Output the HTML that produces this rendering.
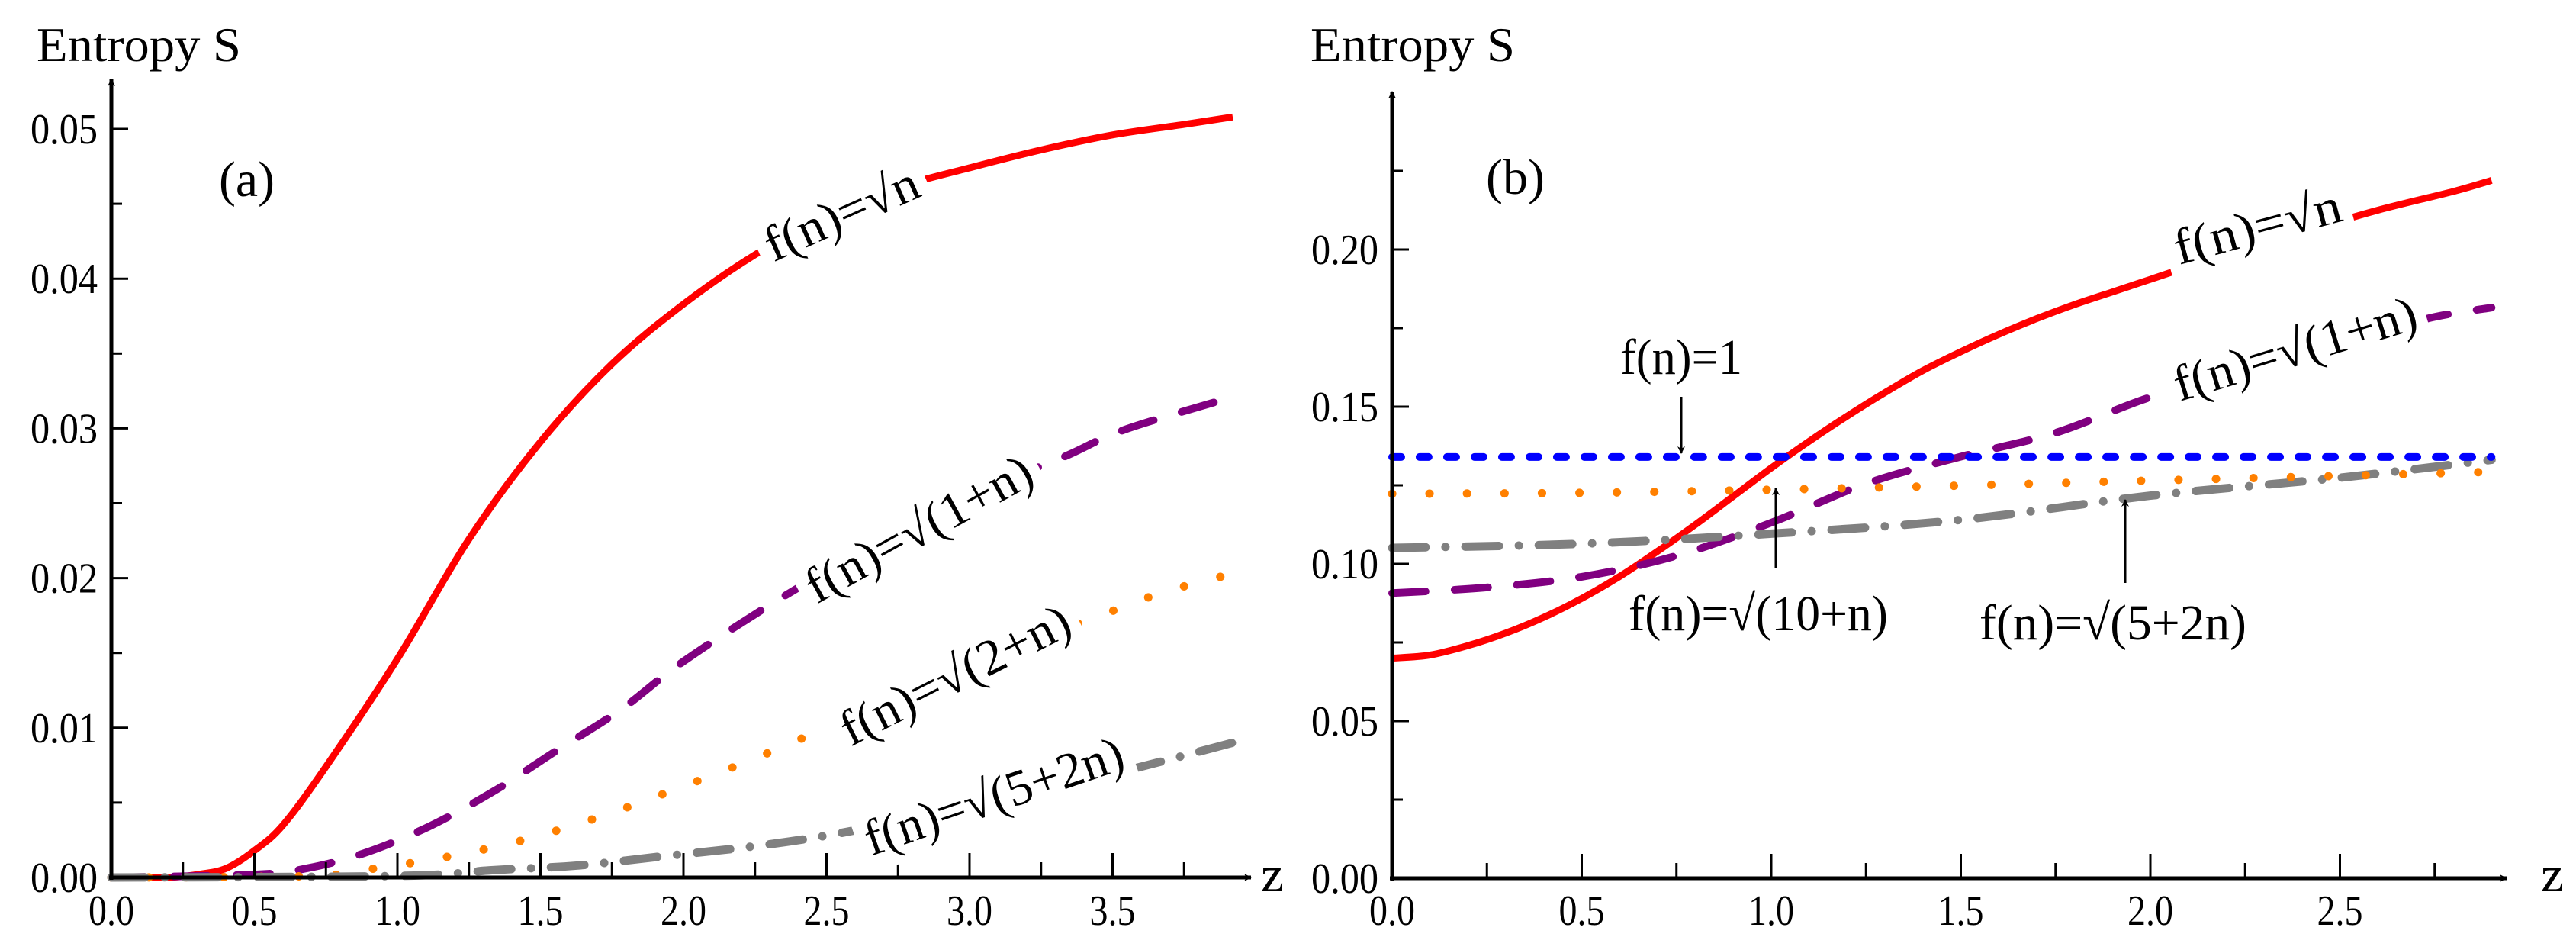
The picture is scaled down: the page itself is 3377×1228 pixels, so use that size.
<!DOCTYPE html>
<html><head><meta charset="utf-8"><style>
html,body{margin:0;padding:0;background:#fff;}
svg{display:block;font-family:"Liberation Serif","DejaVu Serif",serif;}
</style></head><body>
<svg id="chart" width="3377" height="1228" viewBox="0 0 3377 1228" xmlns="http://www.w3.org/2000/svg">
<defs>
<marker id="ah" markerWidth="10" markerHeight="10" refX="9" refY="5" orient="auto" markerUnits="userSpaceOnUse" viewBox="0 0 10 10"><path d="M0,0 L10,5 L0,10 L3,5 Z" fill="#000"/></marker>
</defs>
<g id="pa"></g>
<g id="pb"></g>
</svg>
<script>
// ---- Panel (a) data ----
const aRedX = [0,0.2,0.3,0.4,0.5,0.6,0.75,1.0,1.25,1.5,1.75,2.0,2.25,2.5,2.75,3.0,3.25,3.5,3.75,3.92];
const aRedY = [0,0,0.0002,0.0006,0.0018,0.0035,0.0074,0.0146,0.0226,0.0291,0.0343,0.0383,0.0416,0.0442,0.0461,0.0474,0.0486,0.0496,0.0503,0.0508];
const aPurX = [0,0.5,0.68,0.88,1.11,1.34,1.55,1.78,1.99,2.31,2.6,3.0,3.33,3.54,3.92];
const aPurY = [0,0.0002,0.0006,0.0016,0.0034,0.0058,0.0084,0.0112,0.0143,0.0183,0.0215,0.0255,0.0281,0.0299,0.0321];
const aOrX = [0,0.7,0.92,1.18,1.44,1.70,1.96,2.23,2.5,2.8,3.1,3.43,3.67,3.92];
const aOrY = [0,0.0001,0.0006,0.0014,0.0025,0.0040,0.0058,0.0078,0.0100,0.0125,0.0150,0.0173,0.0190,0.0203];
const aGrX = [0,1.0,1.34,1.63,1.92,2.21,2.5,2.9,3.3,3.6,3.92];
const aGrY = [0,0.0001,0.0005,0.0008,0.0014,0.0020,0.0028,0.0043,0.0060,0.0074,0.0090];
const aXTicks = ["0.0","0.5","1.0","1.5","2.0","2.5","3.0","3.5"];
const aYTicks = ["0.00","0.01","0.02","0.03","0.04","0.05"];
// ---- Panel (b) data ----
const bRedX = [0,0.1,0.2,0.3,0.4,0.5,0.6,0.7,0.8,0.9,1.0,1.1,1.2,1.3,1.4,1.5,1.6,1.7,1.8,1.9,2.0,2.2,2.4,2.6,2.8,2.9];
const bRedY = [0.070,0.071,0.074,0.078,0.083,0.089,0.096,0.104,0.1125,0.1215,0.1305,0.139,0.147,0.1545,0.1615,0.1675,0.173,0.178,0.1825,0.1865,0.1905,0.1985,0.2055,0.2125,0.2185,0.222];
const bBlueX = [0,2.9];
const bBlueY = [0.134,0.134];
const bOrX = [0,0.5,1.0,1.5,2.0,2.5,2.9];
const bOrY = [0.1223,0.1226,0.1236,0.1249,0.1265,0.128,0.1293];
const bGrX = [0,0.5,1.0,1.5,2.0,2.5,2.9];
const bGrY = [0.1051,0.1064,0.1096,0.114,0.1217,0.1274,0.1331];
const bPurX = [0,0.25,0.5,0.75,1.0,1.25,1.5,1.75,2.0,2.25,2.5,2.73,2.9];
const bPurY = [0.0907,0.0925,0.0959,0.1026,0.1131,0.1255,0.1341,0.1417,0.153,0.161,0.170,0.178,0.1815];
const bXTicks = ["0.0","0.5","1.0","1.5","2.0","2.5"];
const bYTicks = ["0.00","0.05","0.10","0.15","0.20"];

const NS = "http://www.w3.org/2000/svg";
function mk(tag, parent, attrs){const e=document.createElementNS(NS,tag);for(const k in attrs)e.setAttribute(k,attrs[k]);parent.appendChild(e);return e;}
function pathD(xs, ys, sx, sy){
  const p = xs.map((x,i)=>[sx(x),sy(ys[i])]);
  let d = "M"+p[0][0].toFixed(1)+","+p[0][1].toFixed(1);
  for(let i=0;i<p.length-1;i++){
    const p0=p[Math.max(0,i-1)],p1=p[i],p2=p[i+1],p3=p[Math.min(p.length-1,i+2)];
    const c1=[p1[0]+(p2[0]-p0[0])/6,p1[1]+(p2[1]-p0[1])/6];
    const c2=[p2[0]-(p3[0]-p1[0])/6,p2[1]-(p3[1]-p1[1])/6];
    d+=" C"+c1[0].toFixed(1)+","+c1[1].toFixed(1)+" "+c2[0].toFixed(1)+","+c2[1].toFixed(1)+" "+p2[0].toFixed(1)+","+p2[1].toFixed(1);
  }
  return d;
}
const styles = {
  red:{stroke:"#ff0000","stroke-width":9,fill:"none"},
  purple:{stroke:"#800080","stroke-width":10,fill:"none","stroke-dasharray":"44 38","stroke-linecap":"round"},
  orange:{stroke:"#ff8000","stroke-width":11,fill:"none","stroke-dasharray":"0.1 49","stroke-linecap":"round"},
  gray:{stroke:"#808080","stroke-width":11,fill:"none","stroke-dasharray":"44 26 0.1 26","stroke-linecap":"round"},
  blue:{stroke:"#0000ff","stroke-width":10,fill:"none","stroke-dasharray":"12 24","stroke-linecap":"round"}
};
function axes(g, o){
  const {x0,y0,sx,sy,xMax,yTop,xTicks,xStep,xMinor,yTicks,yStep,yMinor,yMaxV,xArrow} = o;
  const ya = mk("line",g,{x1:x0,y1:y0+3,x2:x0,y2:yTop,stroke:"#000","stroke-width":5,"marker-end":"url(#ah)"});
  
  
  const xa = mk("line",g,{x1:x0-3,y1:y0,x2:xArrow,y2:y0,stroke:"#000","stroke-width":5,"marker-end":"url(#ah)"});
  
  
  for(let v=0; v<=xMax+1e-9; v+=xMinor){
    const major = Math.abs(v/xStep-Math.round(v/xStep))<1e-6;
    const t = mk("line",g,{x1:sx(v),y1:y0,x2:sx(v),y2:y0-(major?32:20),stroke:"#000","stroke-width":3});
    
    
  }
  xTicks.forEach((s,i)=>{
    const t = mk("text",g,{x:sx(i*xStep),y:1212,"font-size":56,"text-anchor":"middle",textLength:60,lengthAdjust:"spacingAndGlyphs"});
    t.textContent=s;
    
    
  });
  for(let v=0; v<=yMaxV+1e-9; v+=yMinor){
    const major = Math.abs(v/yStep-Math.round(v/yStep))<1e-6;
    const t = mk("line",g,{x1:x0,y1:sy(v),x2:x0+(major?22:14),y2:sy(v),stroke:"#000","stroke-width":3});
    
    
  }
  yTicks.forEach((s,i)=>{
    const t = mk("text",g,{x:x0-106,y:sy(i*yStep)+19,"font-size":56,"text-anchor":"start",textLength:88,lengthAdjust:"spacingAndGlyphs"});
    t.textContent=s;
    
    
  });
}
function series(g, xs, ys, sx, sy, st, name){
  const p = mk("path",g,Object.assign({d:pathD(xs,ys,sx,sy)},styles[st]));
  
  
}
function label(g, txt, x, y, rot, name, len){
  const grp = mk("g",g,{transform:`translate(${x},${y}) rotate(${rot})`});
  const r=mk("rect",grp,{x:-len/2-12,y:-50,width:len+24,height:72,fill:"#fff"});
  
  
  const t = mk("text",grp,{x:0,y:0,"font-size":66,"text-anchor":"middle",textLength:len,lengthAdjust:"spacingAndGlyphs"});
  t.textContent = txt;
  
  
}
function arrow(g, x, y1, y2, name){
  const a = mk("line",g,{x1:x,y1:y1,x2:x,y2:y2,stroke:"#000","stroke-width":3,"marker-end":"url(#ah)"});
  
  
}
function text(g, s, x, y, size, name, anchor, len){
  const attrs = {x:x,y:y,"font-size":size,"text-anchor":anchor||"start"};
  if(len){attrs.textLength=len;attrs.lengthAdjust="spacingAndGlyphs";}
  const t = mk("text",g,attrs);
  t.textContent=s;
  
  
}
// Panel (a)
(function(){
  const g=document.getElementById("pa");
  const x0=146,y0=1150, sx=v=>x0+v*375, sy=v=>y0-v*19620;
  series(g,aRedX,aRedY,sx,sy,"red","series-sqrt-n");
  series(g,aPurX,aPurY,sx,sy,"purple","series-sqrt-1-plus-n");
  series(g,aOrX,aOrY,sx,sy,"orange","series-sqrt-2-plus-n");
  series(g,aGrX,aGrY,sx,sy,"gray","series-sqrt-5-plus-2n");
  axes(g,{x0,y0,sx,sy,xMax:3.9,yTop:104,xTicks:aXTicks,xStep:0.5,xMinor:0.25,yTicks:aYTicks,yStep:0.01,yMinor:0.005,yMaxV:0.05,xArrow:1640});
  label(g,"f(n)=√n",1112,300,-24,"label-sqrt-n",215);
  label(g,"f(n)=√(1+n)",1215,712,-29,"label-sqrt-1-plus-n",330);
  label(g,"f(n)=√(2+n)",1262,904,-27,"label-sqrt-2-plus-n",330);
  label(g,"f(n)=√(5+2n)",1310,1064,-19,"label-sqrt-5-plus-2n",355);
  text(g,"Entropy S",48,80,64,"y-axis-title","start",268);
  text(g,"z",1653,1168,66,"x-axis-title","start",30);
  text(g,"(a)",287,257,66,"panel-label-a","start",73);
})();
// Panel (b)
(function(){
  const g=document.getElementById("pb");
  const x0=1825,y0=1151, sx=v=>x0+v*497, sy=v=>y0-v*4120;
  series(g,bRedX,bRedY,sx,sy,"red","series-sqrt-n");
  series(g,bPurX,bPurY,sx,sy,"purple","series-sqrt-1-plus-n");
  series(g,bGrX,bGrY,sx,sy,"gray","series-sqrt-5-plus-2n");
  series(g,bOrX,bOrY,sx,sy,"orange","series-sqrt-10-plus-n");
  series(g,bBlueX,bBlueY,sx,sy,"blue","series-f-equals-1");
  axes(g,{x0,y0,sx,sy,xMax:2.9,yTop:120,xTicks:bXTicks,xStep:0.5,xMinor:0.25,yTicks:bYTicks,yStep:0.05,yMinor:0.025,yMaxV:0.225,xArrow:3286});
  label(g,"f(n)=√n",2965,318,-15,"label-sqrt-n",225);
  label(g,"f(n)=√(1+n)",3015,478,-17,"label-sqrt-1-plus-n",330);
  text(g,"f(n)=1",2204,490,66,"label-f-equals-1","middle",160);
  arrow(g,2204,520,594,"arrow-f-equals-1");
  text(g,"f(n)=√(10+n)",2305,826,66,"label-sqrt-10-plus-n","middle",340);
  arrow(g,2328,744,640,"arrow-sqrt-10-plus-n");
  text(g,"f(n)=√(5+2n)",2770,838,66,"label-sqrt-5-plus-2n","middle",350);
  arrow(g,2786,764,655,"arrow-sqrt-5-plus-2n");
  text(g,"Entropy S",1718,80,64,"y-axis-title","start",268);
  text(g,"z",3331,1168,66,"x-axis-title","start",30);
  text(g,"(b)",1948,254,66,"panel-label-b","start",77);
})();
</script>
</body></html>
